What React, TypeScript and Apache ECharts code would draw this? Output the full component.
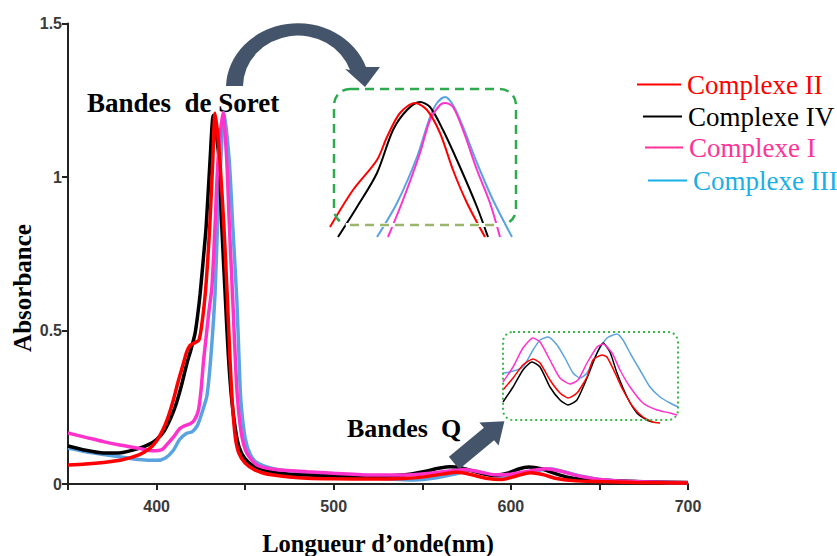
import React, { useEffect, useRef } from 'react';
import * as echarts from 'echarts';

// ---------- data (wavelength nm, absorbance) ----------
const NAMES = ['Complexe II', 'Complexe IV', 'Complexe I', 'Complexe III'];
const LINE_COLORS = ['#ff0000', '#000000', '#ff33cc', '#5ba3e0'];
const LEGEND_TEXT_COLORS = ['#ff0000', '#000000', '#ff3399', '#1aafe6'];

const complexeII: [number, number][] = [
  [350, 0.062], [360, 0.065], [370, 0.07], [380, 0.078], [390, 0.095], [396, 0.115], [400, 0.14], [403, 0.17],
  [406, 0.21], [409.5, 0.274], [412, 0.33], [415, 0.39], [417, 0.43], [419, 0.452], [421.5, 0.46], [424, 0.47],
  [426, 0.54], [427.5, 0.62], [429, 0.74], [430.2, 0.86], [431.7, 1.05], [433, 1.208], [434.5, 1.14], [436, 1.03],
  [438, 0.84], [440, 0.6], [441.5, 0.4], [442.8, 0.26], [444.5, 0.15], [446.5, 0.1], [450, 0.068], [455, 0.047],
  [460, 0.036], [466, 0.029], [475, 0.023], [485, 0.019], [500, 0.017], [520, 0.016], [540, 0.018], [552, 0.024],
  [562, 0.033], [570, 0.038], [578, 0.03], [586, 0.019], [595, 0.015], [603, 0.026], [611, 0.037], [618, 0.031],
  [625, 0.019], [635, 0.011], [650, 0.008], [670, 0.005], [700, 0.003],
];

const complexeIV: [number, number][] = [
  [350, 0.124], [360, 0.11], [370, 0.101], [380, 0.102], [390, 0.116], [396, 0.13], [400, 0.145], [404, 0.17],
  [408, 0.215], [411, 0.26], [414, 0.32], [417, 0.39], [419.5, 0.44], [421.7, 0.49], [423.2, 0.55], [424.6, 0.62],
  [426.5, 0.74], [428, 0.84], [430.2, 1.055], [432, 1.2], [433.5, 1.15], [435.3, 1.055], [436.8, 0.84], [438.7, 0.62],
  [440.5, 0.42], [442.5, 0.27], [445.5, 0.145], [448, 0.1], [452, 0.07], [458, 0.051], [466, 0.038], [475, 0.032],
  [485, 0.029], [500, 0.026], [522, 0.025], [540, 0.03], [552, 0.042], [560, 0.052], [566, 0.056], [572, 0.052],
  [580, 0.04], [590, 0.028], [598, 0.035], [604, 0.048], [610, 0.055], [617, 0.05], [624, 0.036], [632, 0.022],
  [640, 0.015], [655, 0.011], [675, 0.007], [700, 0.005],
];

const complexeI: [number, number][] = [
  [350, 0.166], [360, 0.152], [370, 0.138], [380, 0.126], [390, 0.116], [398, 0.108], [403, 0.112], [406, 0.13],
  [409.5, 0.153], [413, 0.18], [416, 0.19], [419, 0.196], [421.5, 0.21], [423.6, 0.24], [425, 0.3], [426.5, 0.4],
  [428, 0.48], [429.5, 0.56], [431.2, 0.64], [433, 0.84], [434.7, 1.055], [437.5, 1.21], [439.6, 1.055], [441.1, 0.84],
  [443, 0.6], [444.5, 0.4], [445.8, 0.27], [448, 0.16], [451, 0.1], [456.6, 0.062], [466, 0.048], [485, 0.04],
  [500, 0.035], [522, 0.029], [545, 0.03], [555, 0.035], [565, 0.042], [574, 0.047], [582, 0.04], [591, 0.03],
  [600, 0.032], [610, 0.042], [620, 0.05], [628, 0.042], [637, 0.028], [650, 0.015], [670, 0.008], [700, 0.004],
];

const complexeIII: [number, number][] = [
  [350, 0.117], [360, 0.105], [370, 0.096], [380, 0.088], [390, 0.08], [400, 0.077], [405, 0.085], [409.5, 0.11],
  [413, 0.145], [417, 0.165], [420, 0.17], [423, 0.19], [425.5, 0.23], [428.5, 0.29], [431, 0.44], [433, 0.62],
  [434.4, 0.84], [436.3, 1.055], [438, 1.21], [441, 1.055], [443, 0.84], [445.3, 0.6], [446.6, 0.4], [447.6, 0.27],
  [450, 0.15], [453, 0.095], [457, 0.068], [466, 0.05], [485, 0.036], [500, 0.03], [522, 0.02], [545, 0.013],
  [558, 0.02], [568, 0.032], [577, 0.045], [585, 0.035], [592, 0.025], [602, 0.028], [612, 0.04], [622, 0.05],
  [630, 0.04], [640, 0.025], [650, 0.015], [670, 0.008], [700, 0.004],
];

// Soret band inset (magnified peak tops)
const soretII: [number, number][] = [
  [420.0, 1.01], [422.3, 1.047], [424.7, 1.077], [425.7, 1.1], [427.0, 1.124], [428.5, 1.134], [429.7, 1.127],
  [431.0, 1.104], [432.3, 1.067], [433.7, 1.034], [435.5, 1.0],
];
const soretIV: [number, number][] = [
  [420.8, 1.0], [422.7, 1.03], [424.7, 1.064], [426.3, 1.107], [427.7, 1.127], [429.0, 1.135], [430.0, 1.13],
  [431.3, 1.107], [433.0, 1.07], [434.7, 1.03], [435.8, 1.0],
];
const soretI: [number, number][] = [
  [425.8, 1.0], [427.3, 1.037], [429.0, 1.084], [430.0, 1.117], [431.0, 1.132], [431.5, 1.134], [432.3, 1.13],
  [433.3, 1.107], [434.7, 1.067], [436.0, 1.034], [437.0, 1.0],
];
const soretIII: [number, number][] = [
  [424.7, 1.0], [426.7, 1.034], [428.7, 1.08], [430.0, 1.12], [430.7, 1.134], [431.5, 1.14], [432.3, 1.132],
  [433.3, 1.11], [434.7, 1.074], [436.3, 1.037], [438.2, 1.0],
];

// Q band inset (magnified)
const qII: [number, number][] = [
  [542, 0.035], [548.7, 0.047], [555.3, 0.06], [562, 0.066], [566.7, 0.062], [573.3, 0.045], [580, 0.032],
  [585.3, 0.027], [591.3, 0.032], [598, 0.048], [602, 0.065], [608, 0.07], [611.3, 0.068], [616.7, 0.052],
  [622, 0.035], [628.7, 0.018], [635.3, 0.008], [642, 0.003], [646.7, 0.002],
];
const qIV: [number, number][] = [
  [542, 0.023], [548.7, 0.038], [555.3, 0.055], [561.3, 0.063], [566.7, 0.058], [573.3, 0.038], [580, 0.025],
  [585.3, 0.02], [591.3, 0.025], [598, 0.047], [604.7, 0.072], [608.7, 0.082], [613.3, 0.073], [618, 0.052],
  [624.7, 0.028], [631.3, 0.012], [638, 0.005], [642, 0.003],
];
const qI: [number, number][] = [
  [542, 0.043], [548.7, 0.058], [555.3, 0.077], [562, 0.087], [566.7, 0.083], [573.3, 0.065], [580, 0.047],
  [586.7, 0.041], [592, 0.045], [598, 0.062], [604.7, 0.078], [608.7, 0.081], [614.7, 0.072], [620, 0.055],
  [626.7, 0.038], [635.3, 0.022], [644.7, 0.015], [653.3, 0.012], [658, 0.01],
];
const qIII: [number, number][] = [
  [542, 0.052], [546.7, 0.053], [555.3, 0.058], [562, 0.075], [566.7, 0.085], [572, 0.088], [578, 0.08],
  [583.3, 0.067], [588.7, 0.052], [593.3, 0.047], [598, 0.052], [604.7, 0.072], [611.3, 0.087], [618, 0.091],
  [622, 0.085], [626.7, 0.072], [633.3, 0.055], [640, 0.038], [646.7, 0.028], [653.3, 0.022], [658.7, 0.018],
];

const MAIN = [complexeII, complexeIV, complexeI, complexeIII];
const SORET = [soretII, soretIV, soretI, soretIII];
const QBAND = [qII, qIV, qI, qIII];
const DRAW_ORDER = [3, 1, 2, 0];

const SERIF = '"Liberation Serif", "Times New Roman", serif';
const SANS = '"Liberation Sans", Arial, sans-serif';

const CURVED_ARROW =
  'M226,86 A72,65 0 0 1 366,67 L380,67 L365,87 L345,69 L350,70 A55,51 0 0 0 243,86 Z';

export default function App() {
  const ref = useRef<HTMLDivElement>(null);

  useEffect(() => {
    if (!ref.current) return;
    echarts.graphic.registerShape('curvedArrow', echarts.graphic.extendPath(CURVED_ARROW, {}));
    const chart = echarts.init(ref.current, undefined, { renderer: 'svg' });

    const series: any[] = [];
    DRAW_ORDER.forEach((i) => {
      series.push({
        name: NAMES[i],
        type: 'line',
        data: MAIN[i],
        xAxisIndex: 0,
        yAxisIndex: 0,
        showSymbol: false,
        smooth: 0.25,
        lineStyle: { color: LINE_COLORS[i], width: 3.5 },
        itemStyle: { color: LINE_COLORS[i] },
        z: 2,
      });
    });
    DRAW_ORDER.forEach((i) => {
      series.push({
        name: NAMES[i] + ' (Soret)',
        type: 'line',
        data: SORET[i],
        xAxisIndex: 1,
        yAxisIndex: 1,
        showSymbol: false,
        smooth: 0.3,
        lineStyle: { color: LINE_COLORS[i], width: 2 },
        itemStyle: { color: LINE_COLORS[i] },
      });
    });
    DRAW_ORDER.forEach((i) => {
      series.push({
        name: NAMES[i] + ' (Q)',
        type: 'line',
        data: QBAND[i],
        xAxisIndex: 2,
        yAxisIndex: 2,
        showSymbol: false,
        smooth: 0.2,
        lineStyle: { color: LINE_COLORS[i], width: 1.5 },
        itemStyle: { color: LINE_COLORS[i] },
      });
    });

    const legendPos = [
      { left: 637, top: 71, w: 44 },
      { left: 643, top: 103, w: 39 },
      { left: 645, top: 134, w: 38 },
      { left: 648, top: 167, w: 39 },
    ];
    const legend = NAMES.map((n, i) => ({
      data: [{ name: n, itemStyle: { color: LEGEND_TEXT_COLORS[i] } }],
      left: legendPos[i].left,
      top: legendPos[i].top,
      padding: 0,
      icon: 'rect',
      itemWidth: legendPos[i].w,
      itemHeight: 2,
      selectedMode: false,
      textStyle: { color: LEGEND_TEXT_COLORS[i], fontFamily: SERIF, fontSize: 27, padding: [0, 0, 0, 1] },
    }));

    const qa = {
      A1: [448.9, 456.8], B1: [483.9, 427.8], H1: [479.4, 422.5], T: [504.4, 421.2],
      H2: [498.6, 445.6], B2: [494.1, 440.2], A2: [459.1, 469.2],
    };

    chart.setOption({
      animation: false,
      backgroundColor: '#ffffff',
      legend,
      grid: [
        { left: 68, right: 149, top: 23.5, bottom: 72, containLabel: false, outerBoundsMode: 'none' },
        { left: 330, top: 87, width: 185, height: 150, outerBoundsMode: 'none' },
        { left: 500, top: 330, width: 180, height: 95, outerBoundsMode: 'none' },
      ],
      xAxis: [
        {
          type: 'value',
          min: 350,
          max: 700,
          interval: 50,
          gridIndex: 0,
          name: 'Longueur d\u2019onde(nm)',
          nameLocation: 'middle',
          nameGap: 47,
          nameTextStyle: { fontFamily: SERIF, fontWeight: 'bold', fontSize: 24.5, color: '#000' },
          axisLine: { lineStyle: { color: '#222', width: 2 } },
          axisTick: { length: 6, lineStyle: { color: '#222', width: 2 } },
          axisLabel: {
            margin: 14,
            fontFamily: SANS,
            fontWeight: 'bold',
            fontSize: 16,
            color: '#3a3a3a',
            formatter: (v: number) => (v % 100 === 0 ? String(v) : ''),
          },
          splitLine: { show: false },
        },
        { type: 'value', gridIndex: 1, min: 420, max: 438.5, show: false },
        { type: 'value', gridIndex: 2, min: 540, max: 660, show: false },
      ],
      yAxis: [
        {
          type: 'value',
          min: 0,
          max: 1.5,
          interval: 0.5,
          gridIndex: 0,
          axisLine: { show: true, lineStyle: { color: '#222', width: 2 } },
          axisTick: { show: true, length: 6, lineStyle: { color: '#222', width: 2 } },
          axisLabel: {
            margin: 6,
            fontFamily: SANS,
            fontWeight: 'bold',
            fontSize: 16,
            color: '#3a3a3a',
            formatter: (v: number) => String(v),
          },
          splitLine: { show: false },
        },
        { type: 'value', gridIndex: 1, min: 1.0, max: 1.15, show: false },
        { type: 'value', gridIndex: 2, min: 0, max: 0.095, show: false },
      ],
      series,
      graphic: [
        {
          type: 'text',
          x: 22,
          y: 288,
          rotation: Math.PI / 2,
          style: {
            text: 'Absorbance',
            font: `bold 25px ${SERIF}`,
            fill: '#000',
            textAlign: 'center',
            textVerticalAlign: 'middle',
          },
        },
        {
          type: 'text',
          x: 87,
          y: 103,
          style: {
            text: 'Bandes  de Soret',
            font: `bold 27px ${SERIF}`,
            fill: '#000',
            textAlign: 'left',
            textVerticalAlign: 'middle',
          },
        },
        {
          type: 'text',
          x: 347,
          y: 428,
          style: {
            text: 'Bandes  Q',
            font: `bold 26px ${SERIF}`,
            fill: '#000',
            textAlign: 'left',
            textVerticalAlign: 'middle',
          },
        },
        { type: 'curvedArrow', x: 0, y: 0, z: 10, style: { fill: '#44546a' } },
        {
          type: 'polygon',
          z: 10,
          shape: { points: [qa.A1, qa.B1, qa.H1, qa.T, qa.H2, qa.B2, qa.A2] },
          style: { fill: '#44546a' },
        },
        {
          type: 'rect',
          z: 9,
          shape: { x: 334, y: 89, width: 182, height: 136, r: 16 },
          style: { fill: 'none', stroke: '#2eaa4e', lineWidth: 2.5, lineDash: [9, 6] },
        },
        {
          type: 'line',
          z: 9,
          shape: { x1: 346, y1: 225, x2: 504, y2: 225 },
          style: { stroke: '#ffffff', lineWidth: 4 },
        },
        {
          type: 'line',
          z: 9,
          shape: { x1: 350, y1: 225, x2: 500, y2: 225 },
          style: { stroke: '#9bb56c', lineWidth: 2.5, lineDash: [9, 6] },
        },
        {
          type: 'rect',
          z: 9,
          shape: { x: 503, y: 332, width: 175, height: 88, r: 10 },
          style: { fill: 'none', stroke: '#3cb54a', lineWidth: 2, lineDash: [2, 3] },
        },
      ],
    });

    return () => chart.dispose();
  }, []);

  return (
    <div
      ref={ref}
      style={{ position: 'fixed', left: 0, top: 0, width: 837, height: 556, background: '#fff' }}
    />
  );
}
